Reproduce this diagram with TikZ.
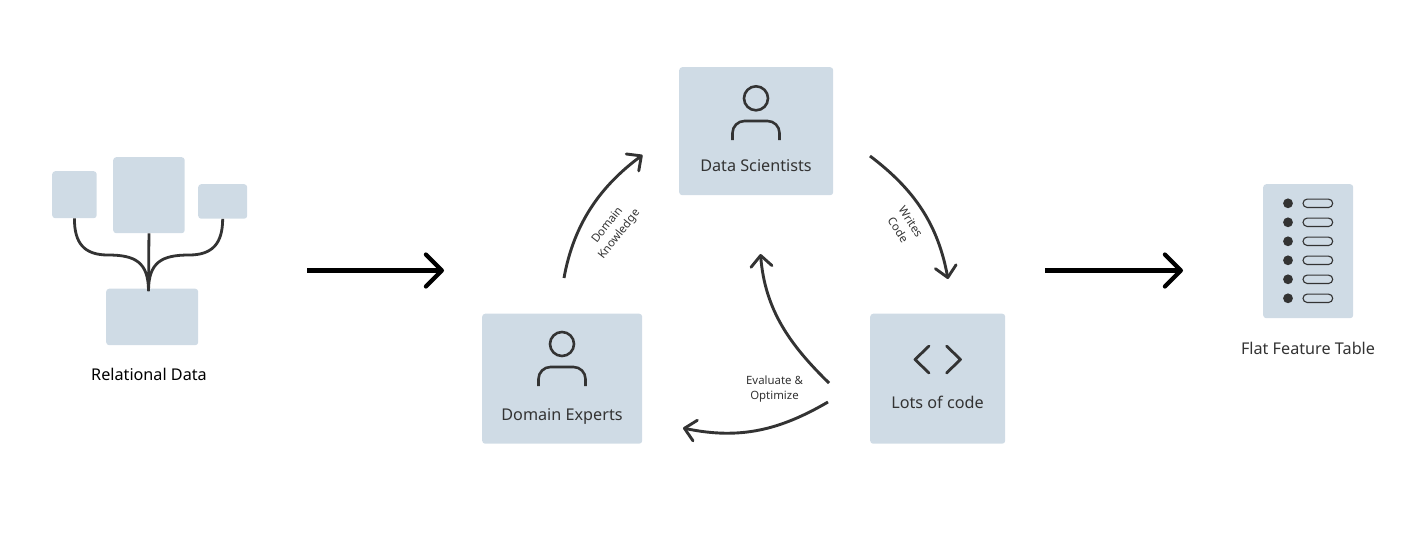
\documentclass[tikz,border=0pt]{standalone}
\usepackage{fontspec}
\setmainfont{Noto Sans}
\usetikzlibrary{arrows.meta}
\definecolor{boxblue}{HTML}{CFDBE5}
\definecolor{ink}{HTML}{333333}
\tikzset{
  x=1pt,y=-1pt,
  box/.style={draw=none,fill=boxblue,rounded corners=3pt,inner sep=0pt,anchor=north west},
  label/.style={font=\fontsize{16.2}{18}\selectfont,text=ink,inner sep=0pt,anchor=base},
  small/.style={font=\fontsize{11.4}{15}\selectfont,text=ink,inner sep=0pt,align=center},
  icon/.style={draw=ink,line width=2.6pt,line cap=butt},
  link/.style={draw=ink,line width=2.8pt},
  flow/.style={draw=ink,line width=2.9pt,-{Straight Barb[length=11pt,width=21pt,line width=2.9pt,round]}},
  bigflow/.style={draw=black,line width=4.2pt,-{Straight Barb[length=16pt,width=32pt,line width=4.2pt,round]}},
  pill/.style={draw=ink,line width=1.1pt,rounded corners=4.2pt},
}
\begin{document}
\begin{tikzpicture}
\useasboundingbox (0,0) rectangle (1427,542);
% boxes
\node[box,minimum width=44.5pt,minimum height=47pt] (tA) at (52,171) {};
\node[box,minimum width=71.5pt,minimum height=76pt] (tB) at (113,157) {};
\node[box,minimum width=49pt,minimum height=34.5pt] (tC) at (198,184) {};
\node[box,minimum width=92pt,minimum height=56.5pt] (tD) at (106,288.5) {};
\node[box,minimum width=154pt,minimum height=128pt] (ds) at (679,67) {};
\node[box,minimum width=160pt,minimum height=130pt] (de) at (482,313.5) {};
\node[box,minimum width=135pt,minimum height=130pt] (lc) at (870,313.5) {};
\node[box,minimum width=90pt,minimum height=134pt] (ft) at (1263,184) {};
% relational connectors
\coordinate (hub) at (148.5,291);
\draw[link] (tA.south) .. controls (74.3,243) and (84,255) .. (108,255) .. controls (135,255) and (148.5,262) .. (hub);
\draw[link] (tC.south) .. controls (222.5,243) and (213,255) .. (189,255) .. controls (162,255) and (148.5,262) .. (hub);
\draw[link] (tB.south) -- (hub);
% labels
\node[label,text=black] (lrel) at (149,380) {Relational Data};
\node[label] (lds) at (756,171) {Data Scientists};
\node[label] (lde) at (562,420) {Domain Experts};
\node[label] (llc) at (937.5,408) {Lots of code};
\node[label] (lft) at (1308,354) {Flat Feature Table};
% people
\draw[icon] (756,98.3) circle[radius=12];
\draw[icon,rounded corners=12pt] (732.5,140) -- (732.5,121) -- (779.5,121) -- (779.5,140);
\draw[icon] (562,344) circle[radius=12];
\draw[icon,rounded corners=12pt] (538.5,386) -- (538.5,367) -- (585.5,367) -- (585.5,386);
% code icon
\draw[icon,line width=2.8pt,line cap=round,line join=round] (929,346) -- (915,359.5) -- (929,373);
\draw[icon,line width=2.8pt,line cap=round,line join=round] (946.5,346) -- (960.5,359.5) -- (946.5,373);
% table icon
\foreach \yy in {203.3,222.3,241.3,260.3,279.3,298.3}{
  \fill[ink] (1288,\yy) circle[radius=4.9];
  \draw[pill] (1303,\yy-4.2) rectangle (1332.7,\yy+4.2);
}
% big arrows
\coordinate (b1s) at (307,270.5);
\coordinate (b1e) at (444,270.5);
\coordinate (b2s) at (1045,270.5);
\coordinate (b2e) at (1183,270.5);
\draw[bigflow] (b1s) -- (b1e);
\draw[bigflow] (b2s) -- (b2e);
% cycle arrows
\coordinate (k1) at (564,278);
\coordinate (k2) at (642.5,155);
\coordinate (w1) at (870,156);
\coordinate (w2) at (948,279);
\coordinate (u1) at (829,383);
\coordinate (u2) at (760.5,254);
\coordinate (v1) at (828,402);
\coordinate (v2) at (683,428);
\draw[flow] (k1) .. controls (574,222) and (602,185) .. (k2);
\draw[flow] (w1) .. controls (915,190) and (938,225) .. (w2);
\draw[flow] (u1) .. controls (790,345) and (765,310) .. (u2);
\draw[flow] (v1) .. controls (780,430) and (740,440) .. (v2);
% arrow labels
\node[small,rotate=52] (tk) at (613.5,230) {Domain\\Knowledge};
\node[small,rotate=-57] (tw) at (904.5,225.5) {Writes\\Code};
\node[small] (te) at (774.5,389) {Evaluate \&\\Optimize};
\end{tikzpicture}
\end{document}
